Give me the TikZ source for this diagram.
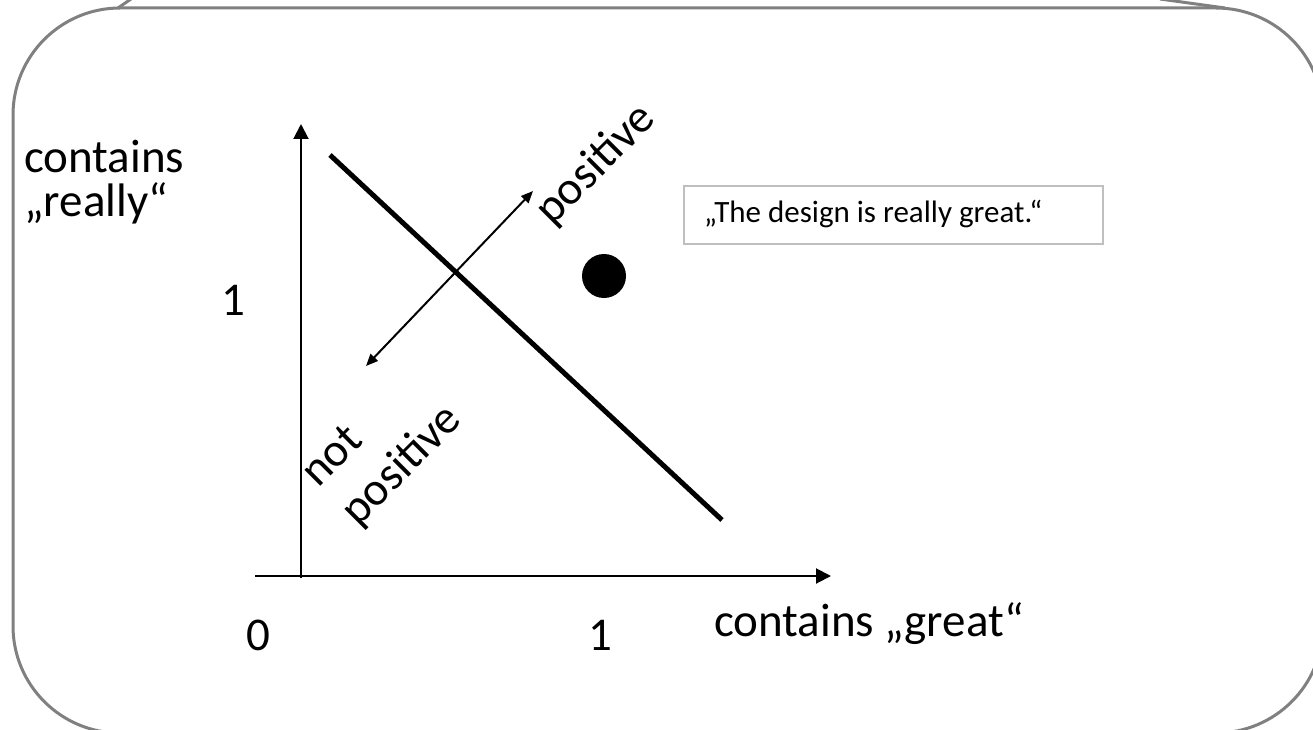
\documentclass[tikz,border=0pt]{standalone}
\usepackage{fontspec}
\setmainfont{Carlito}
\usetikzlibrary{arrows.meta}
\definecolor{frame}{HTML}{808080}
\definecolor{boxgray}{HTML}{BFBFBF}
\begin{document}
\begin{tikzpicture}[x=1pt,y=-1pt,
  big/.style={font=\fontsize{47}{44}\selectfont, inner sep=0pt},
  axis/.style={line width=2pt, -{Triangle[length=15pt,width=15pt]}},
  dbl/.style={line width=2pt, {Triangle[length=12pt,width=10pt]}-{Triangle[length=12pt,width=10pt]}},
  sep/.style={line width=5pt},
  quote/.style={draw=boxgray, line width=1.5pt, minimum width=419pt, minimum height=58pt, inner sep=0pt}
]
\useasboundingbox (0,0) rectangle (1313,730);
\clip (0,0) rectangle (1313,730);
\draw[frame, line width=3pt, rounded corners=107pt] (13,8) rectangle (1323,733);
\coordinate (t1a) at (118,8); \coordinate (t1b) at (131,-1);
\coordinate (t2a) at (1160,-1); \coordinate (t2b) at (1225,8);
\draw[frame, line width=3pt] (t1a) -- (t1b);
\draw[frame, line width=3pt] (t2a) -- (t2b);

% axes
\coordinate (yb) at (301,578);
\coordinate (yt) at (301,124);
\coordinate (xl) at (255,576);
\coordinate (xr) at (831,576);
\draw[axis] (yb) -- (yt);
\draw[axis] (xl) -- (xr);

% separating line
\coordinate (s1) at (330,155);
\coordinate (s2) at (722,520);
\draw[sep] (s1) -- (s2);

% double arrow
\coordinate (a1) at (366,366);
\coordinate (a2) at (533,191);
\draw[dbl] (a1) -- (a2);

% point
\node[circle, fill=black, minimum size=44pt, inner sep=0pt] (pt) at (604,276) {};

% quote box
\node[quote, anchor=north west] (qb) at (683,185) {};
\node[font=\fontsize{31}{34}\selectfont, anchor=west, inner sep=0pt] (qt) at (704,214) {„The design is really great.“};

% labels
\node[big, align=left, anchor=west] (ylab) at (24,182) {contains\\„really“};
\node[big] (y1) at (233,300) {1};
\node[big] (x0) at (258,635) {0};
\node[big] (x1) at (600,635) {1};
\node[big, anchor=west] (xlab) at (714,624) {contains „great“};
\node[big, rotate=45] (pos) at (596,165) {positive};
\node[big, rotate=45] (not) at (331,455) {not};
\node[big, rotate=45] (npos) at (402,466) {positive};
\end{tikzpicture}
\end{document}
